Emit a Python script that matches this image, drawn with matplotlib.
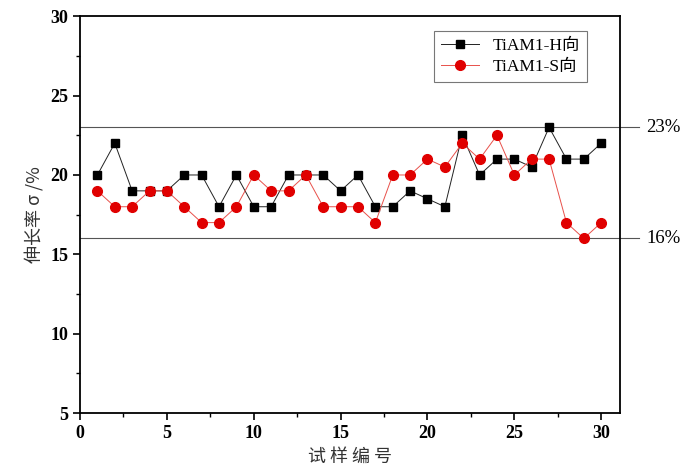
import numpy as np
import matplotlib
matplotlib.use("Agg")
import matplotlib.pyplot as plt
from matplotlib.ticker import MultipleLocator

plt.rcParams['font.family'] = ['Liberation Serif', 'Noto Sans CJK SC']

# sample numbers and elongation values
samples = list(range(1, 31))
h_vals = [20, 22, 19, 19, 19, 20, 20, 18, 20, 18, 18, 20, 20, 20, 19,
          20, 18, 18, 19, 18.5, 18, 22.5, 20, 21, 21, 20.5, 23, 21, 21, 22]
s_vals = [19, 18, 18, 19, 19, 18, 17, 17, 18, 20, 19, 19, 20, 18, 18,
          18, 17, 20, 20, 21, 20.5, 22, 21, 22.5, 20, 21, 21, 17, 16, 17]
limits = [23, 16]
limit_labels = ['23%', '16%']

fig = plt.figure(figsize=(6.9, 4.76), dpi=100)
ax = fig.add_axes([0.116, 0.132, 0.783, 0.834])

ax.plot(samples, h_vals, color='#222222', lw=0.7, marker='s', ms=6,
        mfc='black', mec='black', label='TiAM1-H向')
ax.plot(samples, s_vals, color='#e8504a', lw=0.7, marker='o', ms=7,
        mfc='#e00000', mec='#e00000', label='TiAM1-S向')

# limit lines run past the right spine
for v, lab in zip(limits, limit_labels):
    ax.plot([0, 32.2], [v, v], color='#555555', lw=0.8, clip_on=False, zorder=1)
    ax.text(32.6, v, lab, va='center', ha='left', fontsize=13.5)

ax.set_xlim(0, 31.1)
ax.set_ylim(5, 30)
ax.xaxis.set_major_locator(MultipleLocator(5))
ax.xaxis.set_minor_locator(MultipleLocator(2.5))
ax.yaxis.set_major_locator(MultipleLocator(5))
ax.yaxis.set_minor_locator(MultipleLocator(2.5))
ax.tick_params(which='major', direction='out', length=5, width=1.2, labelsize=13)
ax.tick_params(which='minor', direction='out', length=3, width=1.0)
for t in ax.get_xticklabels() + ax.get_yticklabels():
    t.set_fontweight('bold')
for sp in ax.spines.values():
    sp.set_linewidth(1.3)

ax.set_xlabel('试 样 编 号', fontsize=13, family=['Noto Sans CJK SC'], color='#333333')
ax.set_ylabel('伸长率 σ /%', fontsize=13, family=['Noto Sans CJK SC', 'DejaVu Sans'],
              color='#333333')

leg = ax.legend(loc='upper right', bbox_to_anchor=(0.955, 0.985), fontsize=12.5,
                frameon=True, fancybox=False, edgecolor='#555555',
                handlelength=2.2, borderpad=0.4, labelspacing=0.3)
leg.get_frame().set_linewidth(0.8)

fig.savefig('out.png', dpi=100)
